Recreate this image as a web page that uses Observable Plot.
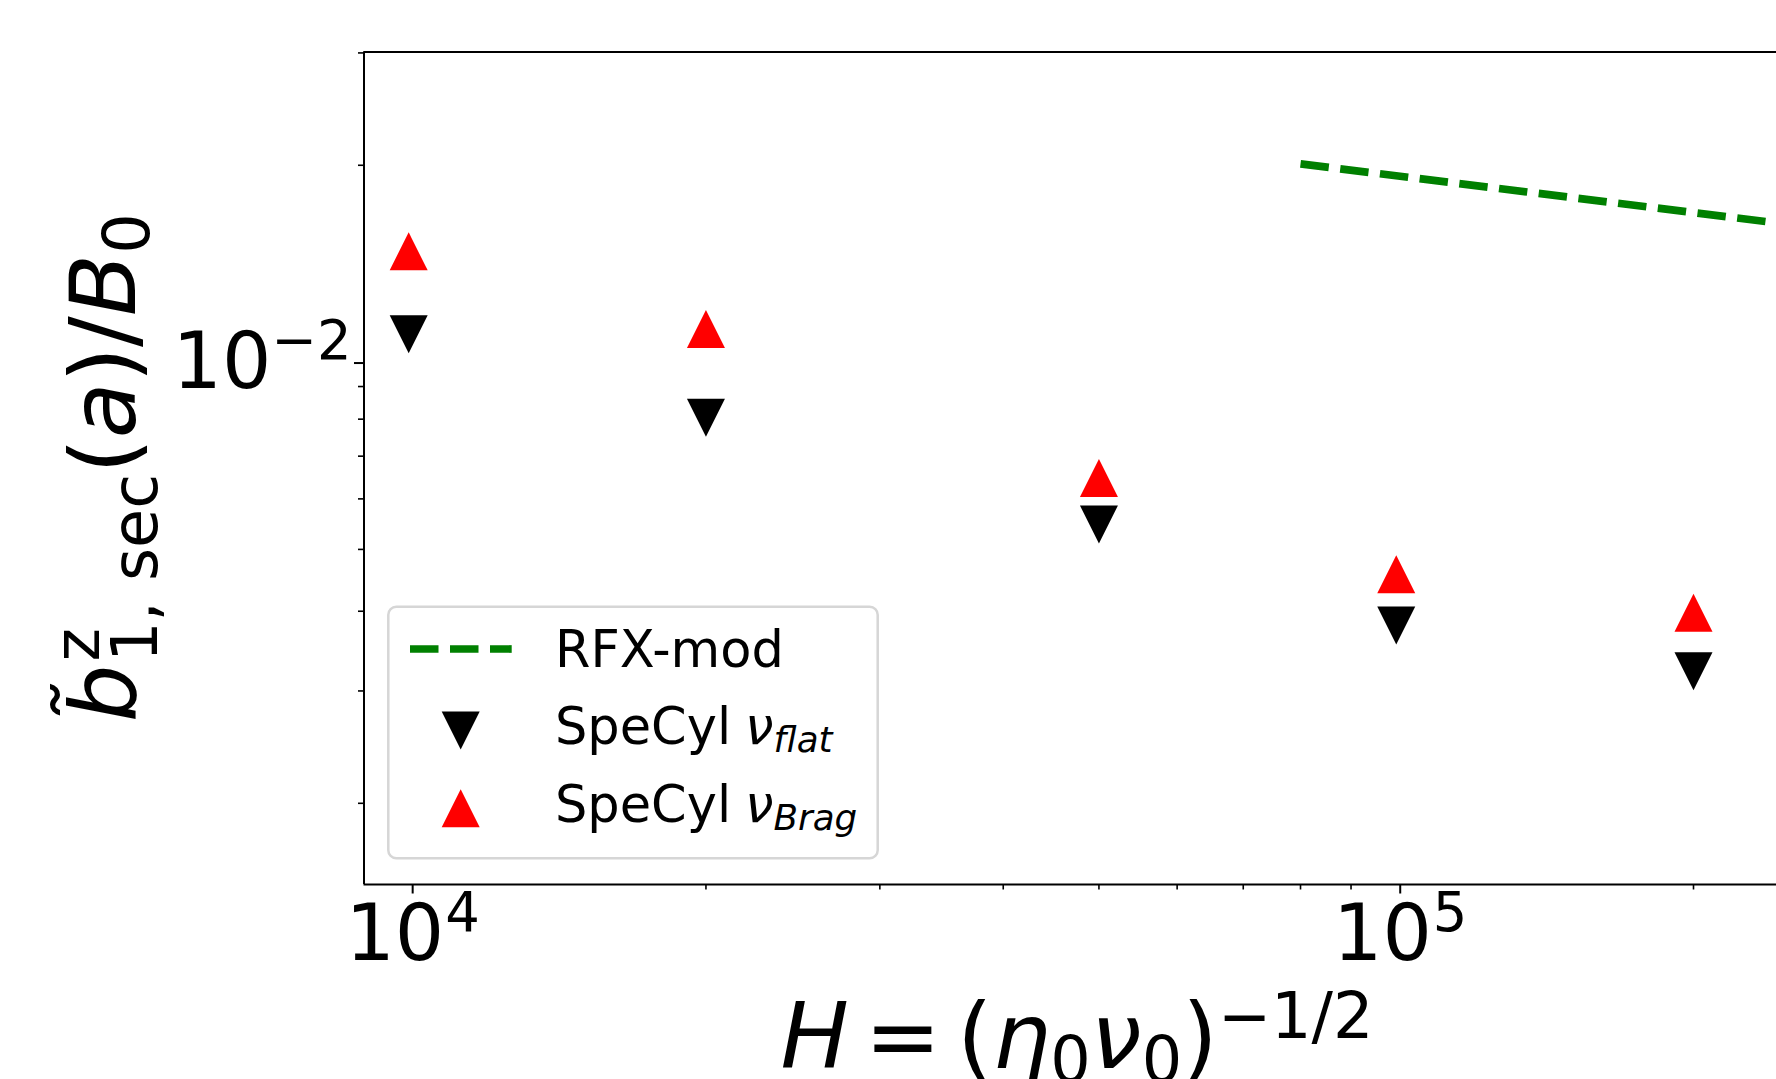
<!DOCTYPE html>
<html><head><meta charset="utf-8">
<style>
html,body{margin:0;padding:0;background:#fff;overflow:hidden;}
svg{display:block;}
</style>
<script src="https://cdn.jsdelivr.net/npm/d3@7"></script>
<script src="https://cdn.jsdelivr.net/npm/@observablehq/plot@0.6"></script>
</head><body><div id="chart"></div>
<script>
// ---- data ----
const H_values   = [1e4, 2e4, 5e4, 1e5, 2e5];
const flatValues = [0.01087, 0.00804, 0.00547, 0.00380, 0.00322];   // SpeCyl ν_flat (black ▼)
const bragValues = [0.01466, 0.01108, 0.00647, 0.00457, 0.00398];   // SpeCyl ν_Brag (red ▲)
const rfxH       = [8e4, 3e5];
const rfxValues  = [0.0201, 0.0156];                                 // RFX-mod (green dashed)
const seriesNames = ["RFX-mod", "SpeCyl", "SpeCyl"];
const seriesSubs  = ["", "flat", "Brag"];
const xMajorTicks = [1e4, 1e5];
const xMajorExp   = ["4", "5"];
const xMinorTicks = [2e4, 3e4, 4e4, 5e4, 6e4, 7e4, 8e4, 9e4, 2e5];
const yMajorTicks = [1e-2];
const yMajorExp   = ["\u22122"];
const yMinorTicks = [2e-3, 3e-3, 4e-3, 5e-3, 6e-3, 7e-3, 8e-3, 9e-3, 2e-2, 3e-2];
const xDomain = [9011, 242700];
const yDomain = [1.492e-3, 3.010e-2];

const flatData = H_values.map((h, i) => ({H: h, b: flatValues[i]}));
const bragData = H_values.map((h, i) => ({H: h, b: bragValues[i]}));
const rfxData  = rfxH.map((h, i) => ({H: h, b: rfxValues[i]}));

// matplotlib-like triangles (width = height = 2r, centred on bbox)
const triUp = {draw(ctx, size) { const h = Math.sqrt(size / Math.PI);
  ctx.moveTo(0, -h); ctx.lineTo(h, h); ctx.lineTo(-h, h); ctx.closePath(); }};
const triDown = {draw(ctx, size) { const h = Math.sqrt(size / Math.PI);
  ctx.moveTo(0, h); ctx.lineTo(h, -h); ctx.lineTo(-h, -h); ctx.closePath(); }};

const FONT = "DejaVu Sans";
const TICKFS = 77.7;

const svg = Plot.plot({
  width: 1776, height: 1079,
  marginLeft: 363.5, marginRight: 0, marginTop: 51.5, marginBottom: 195,
  style: {background: "white", fontFamily: FONT, color: "black", overflow: "hidden"},
  x: {type: "log", domain: xDomain, axis: null},
  y: {type: "log", domain: yDomain, axis: null},
  marks: [
    Plot.line(rfxData, {x: "H", y: "b", stroke: "#008000", strokeWidth: 7.7,
      strokeDasharray: "28.5,11.5", strokeLinecap: "butt", clip: true}),
    Plot.dot(flatData, {x: "H", y: "b", symbol: triDown, r: 19, fill: "black", stroke: "none"}),
    Plot.dot(bragData, {x: "H", y: "b", symbol: triUp, r: 19, fill: "#ff0000", stroke: "none"}),
    Plot.ruleX([xDomain[0]], {stroke: "black", strokeWidth: 2}),
    Plot.ruleY([yDomain[0]], {stroke: "black", strokeWidth: 2}),
    Plot.ruleY([yDomain[1]], {stroke: "black", strokeWidth: 2}),
    Plot.axisX(xMinorTicks, {tickSize: 5.5, strokeWidth: 1.6, tickFormat: () => "", label: null}),
    Plot.axisX(xMajorTicks, {tickSize: 9.5, strokeWidth: 2, tickPadding: 11.3,
      tickFormat: () => "10", fontSize: TICKFS, dx: 4, label: null}),
    Plot.axisY(yMinorTicks, {tickSize: 5.5, strokeWidth: 1.6, tickFormat: () => "", label: null}),
    Plot.axisY(yMajorTicks, {tickSize: 9.5, strokeWidth: 2, tickPadding: 3,
      tickFormat: () => "10", fontSize: TICKFS, dy: 5.7, label: null})
  ]
});
document.getElementById("chart").appendChild(svg);

// ---- superscript exponents on the decade tick labels ----
const sv = d3.select(svg);
function addExp(sel, exps, dx) {
  let k = 0;
  sel.each(function() {
    if (this.textContent !== "10") return;
    d3.select(this).append("tspan").attr("dx", dx).attr("dy", -29)
      .attr("font-size", TICKFS * 0.7).text(exps[k++]);
  });
}
addExp(sv.selectAll('g[aria-label="x-axis tick label"] text'), xMajorExp, 1);
addExp(sv.selectAll('g[aria-label="y-axis tick label"] text'), yMajorExp, 0);

// ---- axis labels (math-style) ----
const LFS = 91;
const xl = sv.append("text").attr("x", 1077).attr("y", 1068)
  .attr("text-anchor", "middle").attr("font-family", FONT).attr("font-size", LFS).attr("fill", "black");
xl.append("tspan").attr("font-style", "italic").text("H");
xl.append("tspan").attr("dx", 16).text("=");
xl.append("tspan").attr("dx", 16).text("(");
xl.append("tspan").attr("font-style", "italic").text("\u03b7");
xl.append("tspan").attr("font-size", LFS * 0.7).attr("dy", 14).text("0");
xl.append("tspan").attr("font-style", "italic").attr("dy", -14).text("\u03bd");
xl.append("tspan").attr("font-size", LFS * 0.7).attr("dy", 14).text("0");
xl.append("tspan").attr("dy", -14).text(")");
xl.append("tspan").attr("font-size", LFS * 0.7).attr("dy", -30).text("\u22121/2");

const yl = sv.append("text").attr("transform", "translate(135,467.8) rotate(-90)")
  .attr("text-anchor", "middle").attr("font-family", FONT).attr("font-size", LFS).attr("fill", "black");
yl.append("tspan").attr("font-style", "italic").text("b\u0303");
yl.append("tspan").attr("font-size", LFS * 0.7).attr("dy", -36).attr("dx", 3).text("z");
yl.append("tspan").attr("font-size", LFS * 0.7).attr("dy", 58).attr("dx", -34).text("1, sec");
yl.append("tspan").attr("dy", -22).text("(");
yl.append("tspan").attr("font-style", "italic").text("a");
yl.append("tspan").text(")/");
yl.append("tspan").attr("font-style", "italic").text("B");
yl.append("tspan").attr("font-size", LFS * 0.7).attr("dy", 14).text("0");

// ---- legend ----
const lg = sv.append("g").attr("font-family", FONT).attr("text-anchor", "start");
lg.append("rect").attr("x", 388.3).attr("y", 606.7).attr("width", 489.4).attr("height", 251.6)
  .attr("rx", 8).attr("fill", "white").attr("fill-opacity", 0.8)
  .attr("stroke", "#d6d6d6").attr("stroke-width", 2.5);
lg.append("line").attr("x1", 410).attr("x2", 511.7).attr("y1", 649).attr("y2", 649)
  .attr("stroke", "#008000").attr("stroke-width", 7.7).attr("stroke-dasharray", "28.5,11.5");
const symPath = (sym, r) => d3.symbol().type(sym).size(Math.PI * r * r)();
lg.append("path").attr("d", symPath(triDown, 19)).attr("transform", "translate(460.7,730.5)").attr("fill", "black");
lg.append("path").attr("d", symPath(triUp, 19)).attr("transform", "translate(460.7,808.2)").attr("fill", "#ff0000");
const LGFS = 51;
const baselines = [667.3, 744, 821.7];
seriesNames.forEach((name, i) => {
  const t = lg.append("text").attr("x", 555).attr("y", baselines[i]).attr("text-anchor", "start")
    .attr("font-size", LGFS).attr("fill", "black");
  t.append("tspan").text(name);
  if (seriesSubs[i]) {
    t.append("tspan").attr("font-style", "italic").attr("dx", 14).text("\u03bd");
    t.append("tspan").attr("font-style", "italic").attr("font-size", LGFS * 0.7).attr("dy", 8).text(seriesSubs[i]);
  }
});
</script>
</body></html>
